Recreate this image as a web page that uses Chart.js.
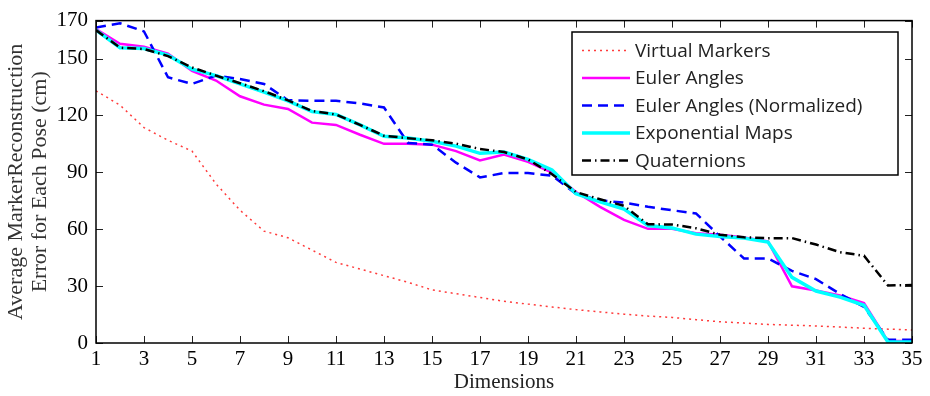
<!DOCTYPE html>
<html>
<head>
<meta charset="utf-8">
<title>Marker reconstruction error</title>
<script src="https://cdn.jsdelivr.net/npm/chart.js@4.4.1/dist/chart.umd.min.js"></script>
<style>
  html, body { margin: 0; padding: 0; background: #fff; }
  #wrap { width: 930px; height: 396px; }
</style>
</head>
<body>
<div id="wrap"><canvas id="chart" width="930" height="396"></canvas></div>
<script>
// number of dimensions kept
const dims = [1, 2, 3, 4, 5, 6, 7, 8, 9, 10, 11, 12, 13, 14, 15, 16, 17, 18, 19, 20,
              21, 22, 23, 24, 25, 26, 27, 28, 29, 30, 31, 32, 33, 34, 35];

// average reconstruction error (cm) per representation
const virtualMarkers = [133, 125.4, 113.6, 106.9, 101.2, 83.9, 70, 59, 55.5, 49, 42.5, 39, 35.5, 32, 28,
                        26, 24, 22, 20.5, 19, 17.6, 16.4, 15.2, 14.2, 13.5, 12.3, 11.2, 10.5, 9.8, 9.4,
                        9, 8.4, 7.8, 7.3, 6.9];
const eulerAngles = [165.5, 157.8, 156.2, 152.6, 143.5, 138.4, 130.1, 125.7, 123.4, 116.2, 115, 109.8, 105, 105, 104.6,
                     101.2, 96.3, 99.4, 95.5, 89.9, 79.6, 71.8, 64.9, 60.2, 60.2, 57.9, 57.1, 55.7, 53.6, 29.9,
                     27.7, 25.1, 21, 1, 1];
const eulerNormalized = [166.4, 168.6, 164.3, 140.1, 136.6, 141, 139.2, 136.6, 128, 127.7, 127.7, 126.3, 124.2, 105.5, 104.6,
                         95.1, 87.3, 89.6, 89.6, 88.2, 78.7, 75.2, 74, 71.8, 70, 68.3, 56.2, 44.6, 44.6, 38,
                         33.7, 25.9, 19, 1.7, 1.7];
const expMaps = [165, 155.7, 155.3, 151.8, 144.4, 141, 136.6, 132.3, 127.7, 122, 120.5, 115, 109, 108.1, 106.4,
                 103.8, 100, 100.7, 96.8, 91.3, 78.7, 74.4, 70.6, 61.9, 60.7, 57.4, 56.2, 55.3, 53.2, 34.6,
                 27.4, 24.2, 19.9, 0.5, 0.5];
const quaternions = [165, 155.7, 155, 151.3, 145.3, 141, 137, 132.8, 127.9, 122.3, 120.5, 115, 109.3, 108, 106.9,
                     105.1, 102.3, 100.7, 96.8, 89, 79.6, 75.8, 72.3, 62.6, 62.5, 60.5, 57.1, 55.7, 55.3, 55.3,
                     51.9, 47.9, 46, 30.3, 30.6];

const yTicks = [0, 30, 60, 90, 120, 150, 170];

const toPoints = (vals) => vals.map((v, i) => ({ x: dims[i], y: v }));

// frame, inward tick marks and the boxed legend inside the plot
const framePlugin = {
    id: 'frame',
    afterDraw(chart) {
        const { ctx, chartArea: a, scales: { x, y } } = chart;
        ctx.save();

        ctx.strokeStyle = '#222';
        ctx.lineWidth = 1;
        ctx.beginPath();
        x.ticks.forEach(t => {
            const px = Math.round(x.getPixelForValue(t.value)) + 0.5;
            ctx.moveTo(px, a.bottom); ctx.lineTo(px, a.bottom - 7);
            ctx.moveTo(px, a.top); ctx.lineTo(px, a.top + 7);
        });
        y.ticks.forEach(t => {
            const py = Math.round(y.getPixelForValue(t.value)) + 0.5;
            ctx.moveTo(a.left, py); ctx.lineTo(a.left + 7, py);
            ctx.moveTo(a.right, py); ctx.lineTo(a.right - 7, py);
        });
        ctx.stroke();

        ctx.strokeStyle = '#000';
        ctx.lineWidth = 1.5;
        ctx.strokeRect(a.left, a.top, a.right - a.left, a.bottom - a.top);

        // legend
        const box = { left: 572, top: 32, width: 326, height: 143 };
        ctx.fillStyle = '#fff';
        ctx.fillRect(box.left, box.top, box.width, box.height);
        ctx.strokeStyle = '#000';
        ctx.lineWidth = 1.5;
        ctx.strokeRect(box.left, box.top, box.width, box.height);

        ctx.font = '19px "Open Sans"';
        ctx.textBaseline = 'middle';
        chart.data.datasets.forEach((ds, i) => {
            const rowY = box.top + 18.5 + i * 27.5;
            ctx.beginPath();
            ctx.strokeStyle = ds.borderColor;
            ctx.lineWidth = ds.borderWidth;
            ctx.setLineDash(ds.borderDash || []);
            ctx.moveTo(582, rowY);
            ctx.lineTo(630, rowY);
            ctx.stroke();
            ctx.setLineDash([]);
            ctx.fillStyle = '#222';
            ctx.fillText(ds.label, 635, rowY + 1);
        });

        ctx.restore();
    }
};

new Chart(document.getElementById('chart'), {
    type: 'line',
    data: {
        datasets: [
            { label: 'Virtual Markers', data: toPoints(virtualMarkers), borderColor: '#ff3b3b',
              borderWidth: 1.5, borderDash: [2, 4], order: 5 },
            { label: 'Euler Angles', data: toPoints(eulerAngles), borderColor: '#ff00ff',
              borderWidth: 2.5, order: 4 },
            { label: 'Euler Angles (Normalized)', data: toPoints(eulerNormalized), borderColor: '#0000ff',
              borderWidth: 2.5, borderDash: [10, 6], order: 3 },
            { label: 'Exponential Maps', data: toPoints(expMaps), borderColor: '#00ffff',
              borderWidth: 3.5, order: 2 },
            { label: 'Quaternions', data: toPoints(quaternions), borderColor: '#000',
              borderWidth: 2.5, borderDash: [9, 4, 1.5, 4], order: 1 }
        ]
    },
    options: {
        responsive: false,
        animation: false,
        layout: { padding: { top: 16, right: 18, left: 0, bottom: 0 } },
        elements: { point: { radius: 0 }, line: { tension: 0, fill: false } },
        plugins: { legend: { display: false }, tooltip: { enabled: false } },
        scales: {
            x: {
                type: 'linear',
                min: 1,
                max: 35,
                grid: { display: false, drawTicks: false },
                border: { display: false },
                ticks: { stepSize: 2, padding: 4, color: '#000',
                         font: { family: '"Liberation Serif"', size: 21 } },
                title: { display: true, text: 'Dimensions', color: '#222',
                         padding: { top: 0, bottom: 1 },
                         font: { family: '"Liberation Serif"', size: 21 } },
                afterFit: (scale) => { scale.height = 53; }
            },
            y: {
                min: 0,
                max: 170,
                grid: { display: false, drawTicks: false },
                border: { display: false },
                afterBuildTicks: (scale) => { scale.ticks = yTicks.map(v => ({ value: v })); },
                ticks: { padding: 8, color: '#000',
                         font: { family: '"Liberation Serif"', size: 21 } },
                title: { display: true, text: ['Average MarkerReconstruction', 'Error for Each Pose (cm)'],
                         color: '#333', padding: { top: 4, bottom: 0 },
                         font: { family: '"Liberation Serif"', size: 22, lineHeight: '24px' } },
                afterFit: (scale) => { scale.width = 96; }
            }
        }
    },
    plugins: [framePlugin]
});
</script>
</body>
</html>
